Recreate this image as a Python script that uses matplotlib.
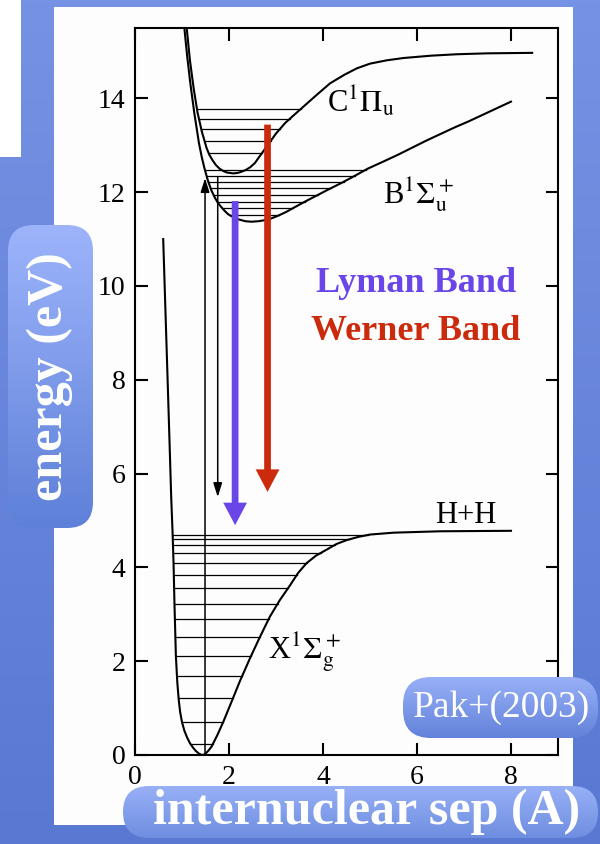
import numpy as np
import matplotlib
matplotlib.use('Agg')
import matplotlib.pyplot as plt
from matplotlib.patches import FancyBboxPatch, Rectangle
from matplotlib.colors import LinearSegmentedColormap

plt.rcParams['font.family'] = 'Liberation Serif'
plt.rcParams['mathtext.fontset'] = 'stix'

# Potential curves of H2 (energy in eV vs internuclear separation)
x_state_r = [0.60, 0.65, 0.70, 0.74, 0.77, 0.80, 0.82, 0.84, 0.87, 0.90, 0.93, 0.96,
             1.00, 1.05, 1.11, 1.17, 1.24, 1.30, 1.36, 1.41, 1.45,
             1.50, 1.56, 1.63, 1.75, 1.88, 2.06, 2.23, 2.45, 2.65, 2.87, 3.08, 3.30,
             3.47, 3.65, 3.85, 4.08, 4.29, 4.50, 4.75, 5.00, 5.50, 6.50, 8.00]
x_state_e = [11.0, 9.4, 7.8, 6.5, 5.5, 4.73, 4.09, 3.22, 2.11, 1.55, 1.18, 0.92,
             0.70, 0.52, 0.37, 0.25, 0.15, 0.08, 0.03, 0.005, 0.0,
             0.03, 0.09, 0.18, 0.42, 0.71, 1.15, 1.57, 2.07, 2.50, 2.95, 3.30, 3.62,
             3.88, 4.09, 4.25, 4.38, 4.50, 4.58, 4.65, 4.70, 4.74, 4.77, 4.78]

b_state_r = [1.05, 1.11, 1.18, 1.26, 1.36, 1.42, 1.48, 1.55, 1.62, 1.70, 1.78, 1.88,
             1.98, 2.10, 2.20, 2.35, 2.48, 2.62, 2.75, 2.90, 3.05, 3.22, 3.40, 3.62,
             3.85, 4.10, 4.40, 4.68, 4.95, 5.30, 5.60, 5.90, 6.20, 6.50, 6.80, 7.10,
             7.40, 7.70, 8.00]
b_state_e = [15.5, 14.9, 14.3, 13.7, 13.05, 12.75, 12.5, 12.25, 12.05, 11.88, 11.75, 11.63,
             11.53, 11.46, 11.42, 11.38, 11.37, 11.38, 11.40, 11.44, 11.50, 11.58, 11.68, 11.80,
             11.92, 12.05, 12.20, 12.35, 12.50, 12.66, 12.80, 12.95, 13.10, 13.24, 13.38, 13.51,
             13.65, 13.79, 13.93]

c_state_r = [1.10, 1.17, 1.25, 1.33, 1.42, 1.52, 1.58, 1.65, 1.72, 1.80, 1.88, 1.95,
             2.09, 2.18, 2.25, 2.35, 2.45, 2.55, 2.62, 2.70, 2.80, 2.90, 3.00, 3.20,
             3.40, 3.58, 3.85, 4.15, 4.45, 4.72, 5.00, 5.35, 5.71, 6.30, 6.84, 7.50, 8.45]
c_state_e = [15.5, 14.8, 14.2, 13.7, 13.3, 12.95, 12.80, 12.68, 12.58, 12.50, 12.45, 12.42,
             12.40, 12.41, 12.43, 12.47, 12.53, 12.62, 12.72, 12.83, 12.97, 13.11, 13.25, 13.48,
             13.66, 13.82, 14.06, 14.32, 14.50, 14.64, 14.74, 14.81, 14.86, 14.91, 14.94, 14.96, 14.97]

# vibrational levels
x_levels = [0.23, 0.71, 1.21, 1.68, 2.11, 2.52, 2.89, 3.22, 3.57, 3.84, 4.09, 4.31, 4.48, 4.60, 4.69]
b_levels = [11.51, 11.66, 11.80, 11.94, 12.08, 12.22, 12.35, 12.48]
c_levels = [12.84, 13.09, 13.34, 13.57, 13.78]

# transitions: (r, start energy, end energy)
absorb = (1.49, 0.0, 12.30)
cascade = (1.76, 12.33, 5.50)
lyman = (2.13, 11.81, 4.90)
werner = (2.82, 13.44, 5.61)

lyman_color = '#6a45e8'
werner_color = '#cc2a0c'

W, H = 600, 844
fig = plt.figure(figsize=(W / 100, H / 100), dpi=100)

# slide background
bg = fig.add_axes([0, 0, 1, 1], zorder=-2)
bg.axis('off')
grad = np.linspace(0, 1, 256)[:, None]
bg_cmap = LinearSegmentedColormap.from_list('bg', ['#7692e4', '#5878d2'])
bg.imshow(grad, extent=(0, W, H, 0), cmap=bg_cmap, aspect='auto', origin='upper')
bg.add_patch(Rectangle((0, 0), 21, 157, facecolor='white', edgecolor='none'))
bg.add_patch(Rectangle((54, 7), 519, 818, facecolor='#fdfdfd', edgecolor='none'))
bg.set_xlim(0, W)
bg.set_ylim(H, 0)


def split(r, e):
    i = int(np.argmin(e))
    return (r[:i + 1][::-1], e[:i + 1][::-1]), (r[i:], e[i:])


def draw_levels(ax, r, e, levels):
    (lr, le), (rr, re_) = split(r, e)
    for lev in levels:
        x0 = np.interp(lev, le, lr)
        x1 = np.interp(lev, re_, rr)
        ax.plot([x0, x1], [lev, lev], color='black', lw=0.9, zorder=2)


ax = fig.add_axes([135 / W, 89 / H, 423 / W, 727 / H])
ax.set_facecolor('none')
for r, e, lev in [(x_state_r, x_state_e, x_levels),
                  (b_state_r, b_state_e, b_levels),
                  (c_state_r, c_state_e, c_levels)]:
    ax.plot(r, e, color='black', lw=1.5, zorder=3, solid_joinstyle='round')
    draw_levels(ax, np.array(r), np.array(e), lev)

# thin black transition arrows
for r, e0, e1 in [absorb, cascade]:
    ax.annotate('', xy=(r, e1), xytext=(r, e0),
                arrowprops=dict(arrowstyle='-|>,head_length=0.7,head_width=0.22',
                                mutation_scale=12, color='black', lw=1.1,
                                shrinkA=0, shrinkB=0), zorder=4)

# Lyman and Werner emission arrows
for (r, e0, e1), col in [(lyman, lyman_color), (werner, werner_color)]:
    ax.annotate('', xy=(r, e1), xytext=(r, e0),
                arrowprops=dict(arrowstyle='simple,head_length=0.9,head_width=0.95,tail_width=0.27',
                                mutation_scale=18, color=col, lw=0,
                                shrinkA=0, shrinkB=0), zorder=5)

ax.text(5.98, 9.88, 'Lyman Band', color=lyman_color, fontsize=26, fontweight='bold',
        ha='center', va='baseline')
ax.text(5.98, 8.85, 'Werner Band', color=werner_color, fontsize=26, fontweight='bold',
        ha='center', va='baseline')

ax.text(4.08, 13.72, r'C$^1\Pi_\mathrm{u}$', fontsize=22, va='baseline')
ax.text(5.28, 11.76, r'B$^1\Sigma_\mathrm{u}^+$', fontsize=22, va='baseline')
ax.text(6.38, 4.94, 'H+H', fontsize=22, va='baseline')
ax.text(2.84, 2.06, r'X$^1\Sigma_\mathrm{g}^+$', fontsize=22, va='baseline')

ax.set_xlim(0, 9)
ax.set_ylim(0, 15.5)
ax.set_xticks([0, 2, 4, 6, 8])
ax.set_yticks([0, 2, 4, 6, 8, 10, 12, 14])
ax.tick_params(direction='in', length=9, width=1.5, top=True, right=True,
               labelsize=20, pad=7)
for s in ax.spines.values():
    s.set_linewidth(1.5)

# overlay with rounded label boxes
ov = fig.add_axes([0, 0, 1, 1], zorder=10)
ov.set_facecolor('none')
ov.axis('off')


def pill(x0, y0, x1, y1, rad, top, bottom):
    patch = FancyBboxPatch((x0, y0), x1 - x0, y1 - y0,
                           boxstyle=f'round,pad=0,rounding_size={rad}',
                           facecolor='none', edgecolor='none')
    ov.add_patch(patch)
    cmap = LinearSegmentedColormap.from_list('pill', [top, bottom])
    im = ov.imshow(grad, extent=(x0, x1, y1, y0), cmap=cmap, aspect='auto', origin='upper')
    im.set_clip_path(patch)


pill(8, 225, 93, 528, 26, '#9db4fb', '#5e80d8')
pill(123, 786, 598, 838, 26, '#98b0f7', '#6e8ee0')
pill(403, 677, 598, 738, 28, '#98b0f7', '#6282da')
ov.set_xlim(0, W)
ov.set_ylim(H, 0)

ov.text(50, 377, 'energy (eV)', color='white', fontsize=36, fontweight='bold',
        rotation=90, ha='center', va='center')
ov.text(367, 812, 'internuclear sep (A)', color='white', fontsize=36, fontweight='bold',
        ha='center', va='center')
ov.text(501, 708, 'Pak+(2003)', color='white', fontsize=27,
        ha='center', va='center')

fig.savefig('out.png', dpi=100)
